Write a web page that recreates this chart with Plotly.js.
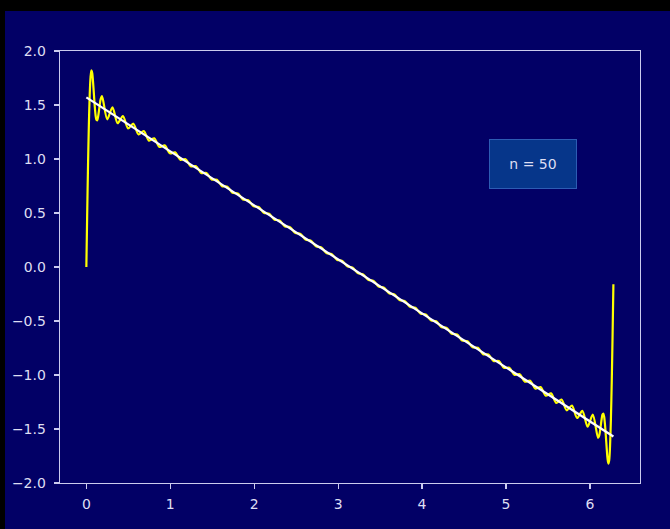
<!DOCTYPE html>
<html>
<head>
<meta charset="utf-8">
<script src="https://cdn.plot.ly/plotly-3.0.1.min.js"></script>
<style>
  html, body { margin: 0; padding: 0; background: #000000; width: 670px; height: 529px; overflow: hidden; }
  #chart { position: absolute; left: 5px; top: 11px; width: 665px; height: 518px; }
</style>
</head>
<body>
<div id="chart"></div>
<script>
// Partial Fourier sum (n = 50)
const seriesX = [
  0, 0.01, 0.02, 0.03, 0.04, 0.05, 0.06, 0.07, 0.08, 0.09, 0.10, 0.11, 0.12, 0.13, 0.14, 0.15, 0.16, 0.17,
  0.1866, 0.2488, 0.3111, 0.3733, 0.4355, 0.4977, 0.5599, 0.6221, 0.6843, 0.7465,
  0.8087, 0.8709, 0.9332, 0.9954, 1.0576, 1.1198, 1.1820, 1.2442, 1.3064, 1.3686,
  1.4308, 1.4931, 1.5553, 1.6175, 1.6797, 1.7419, 1.8041, 1.8663, 1.9285, 1.9907,
  2.0529, 2.1152, 2.1774, 2.2396, 2.3018, 2.3640, 2.4262, 2.4884, 2.5506, 2.6128,
  2.6751, 2.7373, 2.7995, 2.8617, 2.9239, 2.9861, 3.0483, 3.1105, 3.1727, 3.2349,
  3.2972, 3.3594, 3.4216, 3.4838, 3.5460, 3.6082, 3.6704, 3.7326, 3.7948, 3.8571,
  3.9193, 3.9815, 4.0437, 4.1059, 4.1681, 4.2303, 4.2925, 4.3547, 4.4170, 4.4792,
  4.5414, 4.6036, 4.6658, 4.7280, 4.7902, 4.8524, 4.9146, 4.9768, 5.0391, 5.1013,
  5.1635, 5.2257, 5.2879, 5.3501, 5.4123, 5.4745, 5.5367, 5.5990, 5.6612, 5.7234,
  5.7856, 5.8478, 5.9100, 5.9722, 6.0344, 6.0966,
  6.11, 6.12, 6.13, 6.14, 6.15, 6.16, 6.17, 6.18, 6.19, 6.20, 6.21, 6.22, 6.23, 6.24, 6.25, 6.26, 6.27, 6.28
];
const seriesY = [
  0, 0.493, 0.9445, 1.3197, 1.5945, 1.7595, 1.8201, 1.7946, 1.7106, 1.5993, 1.4903, 1.4052, 1.3619, 1.3590, 1.3912, 1.4457, 1.5041, 1.5523,
  1.5814, 1.3677, 1.4786, 1.3314, 1.3983, 1.2823, 1.3267, 1.2274, 1.2581, 1.1703,
  1.1916, 1.1118, 1.1262, 1.0524, 1.0616, 0.9923, 0.9976, 0.9317, 0.9339, 0.8708,
  0.8705, 0.8097, 0.8073, 0.7484, 0.7443, 0.6870, 0.6814, 0.6254, 0.6186, 0.5636,
  0.5559, 0.5018, 0.4933, 0.4400, 0.4307, 0.3781, 0.3683, 0.3161, 0.3058, 0.2541,
  0.2435, 0.1921, 0.1811, 0.1300, 0.1189, 0.0679, 0.0566, 0.0057, -0.0057, -0.0566,
  -0.0679, -0.1189, -0.1300, -0.1811, -0.1921, -0.2435, -0.2541, -0.3058, -0.3161, -0.3683,
  -0.3781, -0.4307, -0.4400, -0.4933, -0.5018, -0.5559, -0.5636, -0.6186, -0.6254, -0.6814,
  -0.6870, -0.7443, -0.7484, -0.8073, -0.8097, -0.8705, -0.8708, -0.9339, -0.9317, -0.9976,
  -0.9923, -1.0616, -1.0524, -1.1262, -1.1118, -1.1916, -1.1703, -1.2581, -1.2274, -1.3267,
  -1.2823, -1.3983, -1.3314, -1.4786, -1.3677, -1.5814,
  -1.563, -1.521, -1.465, -1.407, -1.366, -1.357, -1.387, -1.460, -1.563, -1.677, -1.773, -1.820, -1.789, -1.659, -1.419, -1.074, -0.643, -0.159
];
// Target straight line
const lineX = [0, 6.28];
const lineY = [1.5708, -1.5692];

// Axis ticks
const xTickVals = [0, 1, 2, 3, 4, 5, 6];
const xTickText = ['0', '1', '2', '3', '4', '5', '6'];
const yTickVals = [-2, -1.5, -1, -0.5, 0, 0.5, 1, 1.5, 2];
const yTickText = ['\u22122.0', '\u22121.5', '\u22121.0', '\u22120.5', '0.0', '0.5', '1.0', '1.5', '2.0'];

const boxLabel = 'n = 50';

const navy = '#020066';
const axisCol = '#cbcbee';
const textCol = '#dedef2';

const traces = [
  { x: seriesX, y: seriesY, type: 'scatter', mode: 'lines',
    line: { color: '#ffff00', width: 2.2, shape: 'spline', smoothing: 0.8 }, hoverinfo: 'skip' },
  { x: lineX, y: lineY, type: 'scatter', mode: 'lines',
    line: { color: '#ffffff', width: 2.2 }, hoverinfo: 'skip' }
];

const axisCommon = {
  showgrid: false, zeroline: false, showline: true, mirror: true,
  linecolor: axisCol, linewidth: 1.3,
  ticks: 'outside', ticklen: 5, tickwidth: 1.2, tickcolor: axisCol,
  tickfont: { family: 'DejaVu Sans', size: 14, color: textCol },
  tickmode: 'array'
};

const layout = {
  width: 665, height: 518,
  paper_bgcolor: navy, plot_bgcolor: navy,
  showlegend: false,
  margin: { l: 55, r: 30, t: 40, b: 46 },
  xaxis: Object.assign({}, axisCommon, { range: [-0.314, 6.597], tickvals: xTickVals, ticktext: xTickText, ticklabelstandoff: 3 }),
  yaxis: Object.assign({}, axisCommon, { range: [-2, 2], tickvals: yTickVals, ticktext: yTickText, ticklabelstandoff: 5 }),
  annotations: [{
    x: 5.324, y: 0.951, xref: 'x', yref: 'y', text: boxLabel, showarrow: false,
    font: { family: 'DejaVu Sans', size: 14, color: textCol },
    bgcolor: '#06368a', bordercolor: '#2d5cb3', borderwidth: 1, borderpad: 2,
    width: 82, height: 44, xanchor: 'center', yanchor: 'middle'
  }]
};

Plotly.newPlot('chart', traces, layout, { staticPlot: true, displayModeBar: false });
</script>
</body>
</html>
